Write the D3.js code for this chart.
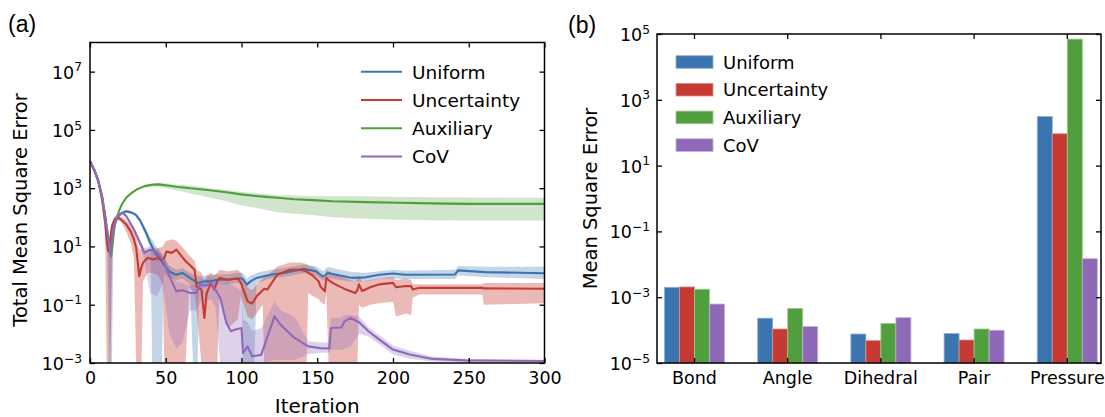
<!DOCTYPE html>
<html><head><meta charset="utf-8">
<script src="https://cdn.jsdelivr.net/npm/d3@7"></script>
<style>
body{margin:0;background:#fff;}
svg{display:block;font-family:"DejaVu Sans",sans-serif;}
</style></head>
<body><svg id="c" width="1105" height="417"></svg>
<script>
// ---------- Panel (a): values read as log10(MSE) ----------
const seriesNames = ["Uniform","Uncertainty","Auxiliary","CoV"];
const seriesColors = ["#3a75b0","#c53a32","#519e3e","#8d69b8"];

const uniformIter = [0,3,5.5,8,10,11.5,12.5,13,14.5,15.5,18,21,24,27,30,33,37,40,41,43,47.5,48.5,52,57,61,66,68,71,72,75,79,84,90,97,100,101,103.5,106,108.5,110,119,128,141,149,154,157,165,173,182,191,200,208,241,243,261,300];
const uniformLog  = [3.93,3.6,3.24,2.7,2.04,1.4,1.0,0.9,1.3,1.6,2.0,2.15,2.21,2.17,2.1,1.9,1.47,1.1,1.0,0.78,0.49,0.4,0.15,0.03,0.09,-0.08,-0.15,-0.25,-0.25,-0.2,-0.2,-0.14,-0.14,-0.1,-0.1,-0.12,-0.31,-0.2,-0.12,-0.08,0.03,0.09,0.23,0.15,-0.04,0.09,0.0,-0.08,-0.06,0.03,0.07,0.03,0.04,0.18,0.12,0.08];
const uniformLow  = [3.91,3.58,3.2,2.65,1.95,1.2,null,null,null,1.5,1.95,2.1,2.16,2.12,2.04,1.83,1.35,0.9,null,null,null,0.1,-0.05,-0.15,-0.1,-0.3,null,null,-0.5,-0.4,-0.38,-0.3,-0.3,-0.25,-0.3,null,null,null,null,-0.25,-0.1,-0.05,0.08,0.0,-0.18,-0.08,-0.15,-0.2,-0.2,-0.12,-0.1,-0.12,-0.12,0.0,-0.05,-0.12];
const uniformHigh = [3.95,3.62,3.28,2.75,2.1,1.5,1.2,1.1,1.45,1.7,2.05,2.2,2.26,2.22,2.15,1.97,1.6,1.3,1.25,1.05,0.75,0.65,0.35,0.2,0.25,0.1,0.05,0.0,-0.02,0.0,0.0,0.05,0.05,0.1,0.1,0.08,-0.1,0.0,0.05,0.1,0.2,0.25,0.38,0.32,0.15,0.3,0.2,0.12,0.1,0.15,0.2,0.17,0.2,0.33,0.3,0.3];

const uncIter = [0,3,5.5,8,10,11,12,13.5,14.5,16.5,18.7,21,24,27,29,30.5,32.5,34,35,38,41.5,45,48,49,50.5,54,57,60.5,63,65.5,69,70.4,73.6,75.5,77,80,82,84,85.5,91,97.6,99.6,104,107,110,114,115,117,123.6,132,138.6,143,144,147,151,152,155,156,157.5,160,169,175,176.5,177.5,179.6,185,191,200,202,208.6,212,213,217.6,259,260,300];
const uncLog  = [3.93,3.6,3.24,2.6,1.8,1.2,0.83,1.3,1.7,1.95,1.98,1.9,1.75,1.5,1.24,0.95,-0.02,0.3,0.44,0.61,0.55,0.6,0.5,0.6,0.83,0.78,0.89,0.66,0.5,0.38,0.2,-0.37,-0.48,-1.45,-0.6,-0.25,-0.48,-0.2,-0.08,-0.14,-0.1,-0.25,-0.88,-0.96,-0.71,-0.5,-0.45,-0.48,0.03,0.2,0.2,0.15,0.1,0.0,-0.2,-0.37,-0.54,-0.08,-0.15,-0.25,-0.48,-0.6,-0.5,-0.3,-0.53,-0.4,-0.3,-0.25,-0.4,-0.36,-0.36,-0.48,-0.42,-0.42,-0.44,-0.45];
const uncLow  = [3.91,3.58,3.2,2.5,1.6,null,null,null,1.5,1.85,1.9,1.8,1.5,1.1,0.6,null,null,null,-0.2,0.1,0.1,0.0,-0.3,null,null,null,null,null,null,-0.4,-0.6,-1.2,null,null,null,null,null,null,-0.6,-1.8,-1.5,-0.7,-1.4,-1.5,-1.3,-1.0,null,null,null,null,null,null,-0.6,-0.7,-0.8,-0.9,-1.0,-0.6,null,null,null,null,null,-1.0,-1.1,-1.0,-0.95,-0.9,-1.4,-1.3,-1.35,-0.75,-0.65,-0.65,-1.0,-0.95];
const uncHigh = [3.95,3.62,3.28,2.7,1.95,1.4,1.0,1.5,1.85,2.05,2.06,2.0,1.9,1.7,1.5,1.3,0.9,0.9,0.85,0.9,0.85,0.95,1.0,1.1,1.2,1.25,1.2,1.0,0.85,0.7,0.5,0.2,0.1,-0.3,0.0,0.1,0.0,0.1,0.2,0.15,0.2,0.1,-0.4,-0.5,-0.3,-0.1,-0.05,0.0,0.3,0.45,0.45,0.4,0.35,0.3,0.15,0.0,-0.1,0.2,0.15,0.1,-0.1,-0.2,-0.1,0.0,-0.2,-0.15,-0.1,-0.05,-0.15,-0.1,-0.15,-0.3,-0.3,-0.3,-0.25,-0.25];

const auxIter = [0,3,5.5,8,10,12,14,16.5,19,21,24,27.5,31,36,41,45,50,57,68,79,90,101,112,123.6,135,147,160,182,204,226,248,300];
const auxLog  = [3.93,3.6,3.24,2.7,2.04,1.3,0.66,1.81,2.2,2.44,2.68,2.84,2.96,3.07,3.12,3.13,3.1,3.05,2.99,2.93,2.86,2.78,2.72,2.67,2.62,2.59,2.55,2.52,2.5,2.48,2.46,2.46];
const auxLow  = [3.91,3.58,3.2,2.65,1.98,1.2,0.55,1.75,2.16,2.4,2.64,2.8,2.92,3.03,3.06,3.06,3.0,2.93,2.8,2.68,2.55,2.4,2.3,2.17,2.12,2.08,2.0,1.95,1.92,1.9,1.89,1.89];
const auxHigh = [3.95,3.62,3.28,2.75,2.1,1.4,0.75,1.87,2.24,2.48,2.72,2.88,3.0,3.11,3.17,3.19,3.17,3.13,3.08,3.0,2.94,2.87,2.82,2.77,2.75,2.72,2.72,2.72,2.7,2.69,2.68,2.67];

const covIter = [0,3,5.5,8,10,12,13.5,15,17,19,21.7,24,29,33,36,39.6,44,48,52.4,57,61,66,70,73,76,80,83,86,90,93,96,100,101,104,107,113,121.8,126,135,144,152,158,159,166,168,172,177.6,184,191,200,211,226,248,300];
const covLog  = [3.93,3.6,3.24,2.7,2.04,1.3,0.72,1.5,1.95,2.1,2.15,2.04,1.58,1.12,0.78,0.89,0.8,0.55,-0.02,-0.54,-0.5,-0.6,-0.6,-0.3,-0.35,-0.25,-0.5,-0.77,-1.63,-1.91,-1.85,-1.8,-2.66,-2.43,-2.77,-2.72,-1.4,-1.7,-2.14,-2.43,-2.49,-2.5,-1.8,-1.78,-1.57,-1.45,-1.6,-1.92,-2.2,-2.54,-2.71,-2.86,-2.91,-2.93];
const covLow  = [3.91,3.58,3.2,2.65,1.95,1.1,null,1.4,1.9,2.05,2.1,1.98,1.5,1.0,0.5,-0.6,-0.7,-0.3,-2.0,-2.5,-2.3,-1.2,-1.2,-0.9,-0.9,-0.8,-1.1,null,null,null,null,null,null,null,null,-3.1,-2.9,-2.9,-2.9,-2.7,-2.65,-2.65,-2.55,-2.55,-2.5,-2.45,-2.0,-2.1,-2.36,-2.7,-2.85,-2.95,-2.97,-2.97];
const covHigh = [3.95,3.62,3.28,2.75,2.1,1.4,0.85,1.6,2.0,2.15,2.2,2.1,1.65,1.25,0.95,1.0,0.95,0.7,0.3,-0.2,-0.25,-0.35,-0.3,-0.1,-0.1,-0.05,-0.2,-0.3,-0.2,-0.3,-0.4,-0.5,-1.5,-1.6,-1.9,-1.8,-0.9,-1.2,-1.4,-2.25,-2.3,-2.3,-1.45,-1.45,-1.35,-1.35,-1.4,-1.78,-2.05,-2.4,-2.58,-2.78,-2.86,-2.89];

const iterTicks = [0,50,100,150,200,250,300];
const mseTicksA = [-3,-1,1,3,5,7];

// ---------- Panel (b) ----------
const categories = ["Bond","Angle","Dihedral","Pair","Pressure"];
const barUniform     = [2.0e-3, 2.3e-4, 7.6e-5, 7.9e-5, 310];
const barUncertainty = [2.05e-3, 1.08e-4, 4.8e-5, 5.0e-5, 93];
const barAuxiliary   = [1.75e-3, 4.55e-4, 1.59e-4, 1.08e-4, 7.0e4];
const barCoV         = [6.2e-4, 1.28e-4, 2.39e-4, 9.9e-5, 0.0148];
const mseTicksB = [-5,-3,-1,1,3,5];

// ======================================================
const svg = d3.select("#c");
const black = "#000";
const tickFont = 17.5;

function supLabel(sel, exp, fs){
  sel.append("tspan").text("10").attr("font-size", fs);
  sel.append("tspan").text(exp < 0 ? "\u2212" + (-exp) : String(exp))
     .attr("font-size", fs*0.7).attr("dy", -fs*0.42);
}

// ---------- Panel (a) ----------
const A = {l:90, r:544.5, t:42.5, b:363};
const xA = d3.scaleLinear().domain([0,300]).range([A.l, A.r]);
const yA = d3.scaleLog().domain([1e-3, 1e8]).range([A.b, A.t]).clamp(true);

const gA = svg.append("g");
gA.append("clipPath").attr("id","clipA").append("rect")
  .attr("x",A.l).attr("y",A.t).attr("width",A.r-A.l).attr("height",A.b-A.t);

const series = [
  {it:uniformIter, m:uniformLog, lo:uniformLow, hi:uniformHigh, op:0.3},
  {it:uncIter, m:uncLog, lo:uncLow, hi:uncHigh, op:0.35},
  {it:auxIter, m:auxLog, lo:auxLow, hi:auxHigh, op:0.27},
  {it:covIter, m:covLog, lo:covLow, hi:covHigh, op:0.3}
];
const plotG = gA.append("g").attr("clip-path","url(#clipA)");
series.forEach((s,k)=>{
  const pts = s.it.map((x,i)=>({x, m:s.m[i], lo:s.lo[i], hi:s.hi[i]}));
  const area = d3.area()
    .x(d=>xA(d.x))
    .y0(d=> d.lo===null ? A.b+2 : yA(Math.pow(10,d.lo)))
    .y1(d=> yA(Math.pow(10,d.hi)));
  plotG.append("path").datum(pts).attr("d",area)
    .attr("fill",seriesColors[k]).attr("fill-opacity",s.op).attr("stroke","none");
});
series.forEach((s,k)=>{
  const pts = s.it.map((x,i)=>({x, m:s.m[i]}));
  const line = d3.line().x(d=>xA(d.x)).y(d=>yA(Math.pow(10,d.m)));
  plotG.append("path").datum(pts).attr("d",line)
    .attr("fill","none").attr("stroke",seriesColors[k]).attr("stroke-width",2.1)
    .attr("stroke-linejoin","round");
});

function styleAxis(g){
  g.select(".domain").remove();
  g.selectAll(".tick line").attr("stroke",black).attr("stroke-width",1.3);
}
gA.append("g").attr("transform",`translate(0,${A.b})`)
  .call(d3.axisBottom(xA).tickValues(iterTicks).tickSize(-5).tickPadding(9).tickFormat(d3.format("d")))
  .call(styleAxis)
  .selectAll("text").attr("font-size",tickFont).attr("font-family","DejaVu Sans").attr("fill",black);
gA.append("g").attr("transform",`translate(0,${A.t})`)
  .call(d3.axisTop(xA).tickValues(iterTicks).tickSize(-5).tickFormat(""))
  .call(styleAxis);
const yTickValsA = mseTicksA.map(e=>Math.pow(10,e));
gA.append("g").attr("transform",`translate(${A.l},0)`)
  .call(d3.axisLeft(yA).tickValues(yTickValsA).tickSize(-5).tickFormat(""))
  .call(styleAxis);
gA.append("g").attr("transform",`translate(${A.r},0)`)
  .call(d3.axisRight(yA).tickValues(yTickValsA).tickSize(-5).tickFormat(""))
  .call(styleAxis);
mseTicksA.forEach(e=>{
  const t = gA.append("text").attr("x",A.l-8).attr("y",yA(Math.pow(10,e))+7)
    .attr("text-anchor","end").attr("fill",black);
  supLabel(t,e,tickFont);
});
gA.append("rect").attr("x",A.l).attr("y",A.t).attr("width",A.r-A.l).attr("height",A.b-A.t)
  .attr("fill","none").attr("stroke",black).attr("stroke-width",1.5);

gA.append("text").attr("x",(A.l+A.r)/2).attr("y",413).attr("text-anchor","middle")
  .attr("font-size",20).text("Iteration");
gA.append("text").attr("transform","translate(27,210) rotate(-90)").attr("text-anchor","middle")
  .attr("font-size",19.5).text("Total Mean Square Error");
gA.append("text").attr("x",8).attr("y",32).attr("font-family","Liberation Sans, Arial, sans-serif")
  .attr("font-size",23).text("(a)");

seriesNames.forEach((n,i)=>{
  const cy = 71.7 + i*28.3;
  gA.append("line").attr("x1",361).attr("x2",402).attr("y1",cy).attr("y2",cy)
    .attr("stroke",seriesColors[i]).attr("stroke-width",2);
  gA.append("text").attr("x",412).attr("y",cy+6.8).attr("font-size",18.5).text(n);
});

// ---------- Panel (b) ----------
const B = {l:657, r:1101, t:34, b:363};
const xB = d3.scaleBand().domain(categories).range([B.l,B.r])
  .paddingInner(0.356).paddingOuter(0.06).align(0.67);
const xSub = d3.scaleBand().domain(seriesNames).range([0,xB.bandwidth()]);
const yB = d3.scaleLog().domain([1e-5,1e5]).range([B.b,B.t]).clamp(true);
const gB = svg.append("g");
const barData = [barUniform, barUncertainty, barAuxiliary, barCoV];
const lightEdge = ["#8fb0d3","#e08e88","#9acb8d","#c2aedb"];
categories.forEach((c,i)=>{
  barData.forEach((arr,k)=>{
    const v = arr[i];
    gB.append("rect")
      .attr("x", xB(c)+xSub(seriesNames[k]))
      .attr("y", yB(v))
      .attr("width", xSub.bandwidth())
      .attr("height", B.b - yB(v))
      .attr("fill", seriesColors[k])
      .attr("stroke", lightEdge[k]).attr("stroke-width",0.8);
  });
});
const yTickValsB = mseTicksB.map(e=>Math.pow(10,e));
gB.append("g").attr("transform",`translate(0,${B.b})`)
  .call(d3.axisBottom(xB).tickSize(-5).tickPadding(9)).call(styleAxis)
  .selectAll("text").attr("font-size",tickFont).attr("font-family","DejaVu Sans").attr("fill",black);
gB.append("g").attr("transform",`translate(0,${B.t})`)
  .call(d3.axisTop(xB).tickSize(-5).tickFormat("")).call(styleAxis);
gB.append("g").attr("transform",`translate(${B.l},0)`)
  .call(d3.axisLeft(yB).tickValues(yTickValsB).tickSize(-5).tickFormat("")).call(styleAxis);
gB.append("g").attr("transform",`translate(${B.r},0)`)
  .call(d3.axisRight(yB).tickValues(yTickValsB).tickSize(-5).tickFormat("")).call(styleAxis);
mseTicksB.forEach(e=>{
  const t = gB.append("text").attr("x",B.l-7).attr("y",yB(Math.pow(10,e))+7)
    .attr("text-anchor","end").attr("fill",black);
  supLabel(t,e,tickFont);
});
gB.append("rect").attr("x",B.l).attr("y",B.t).attr("width",B.r-B.l).attr("height",B.b-B.t)
  .attr("fill","none").attr("stroke",black).attr("stroke-width",1.5);
gB.append("text").attr("transform",`translate(597,${(B.t+B.b)/2}) rotate(-90)`)
  .attr("text-anchor","middle").attr("font-size",19.5).text("Mean Square Error");
gB.append("text").attr("x",568).attr("y",33).attr("font-family","Liberation Sans, Arial, sans-serif")
  .attr("font-size",23).text("(b)");
seriesNames.forEach((n,i)=>{
  const cy = 62 + i*27.7;
  gB.append("rect").attr("x",676).attr("y",cy-6.3).attr("width",37).attr("height",12.6)
    .attr("fill",seriesColors[i]).attr("stroke",lightEdge[i]).attr("stroke-width",0.8);
  gB.append("text").attr("x",723).attr("y",cy+6.6).attr("font-size",18).text(n);
});
</script></body></html>
